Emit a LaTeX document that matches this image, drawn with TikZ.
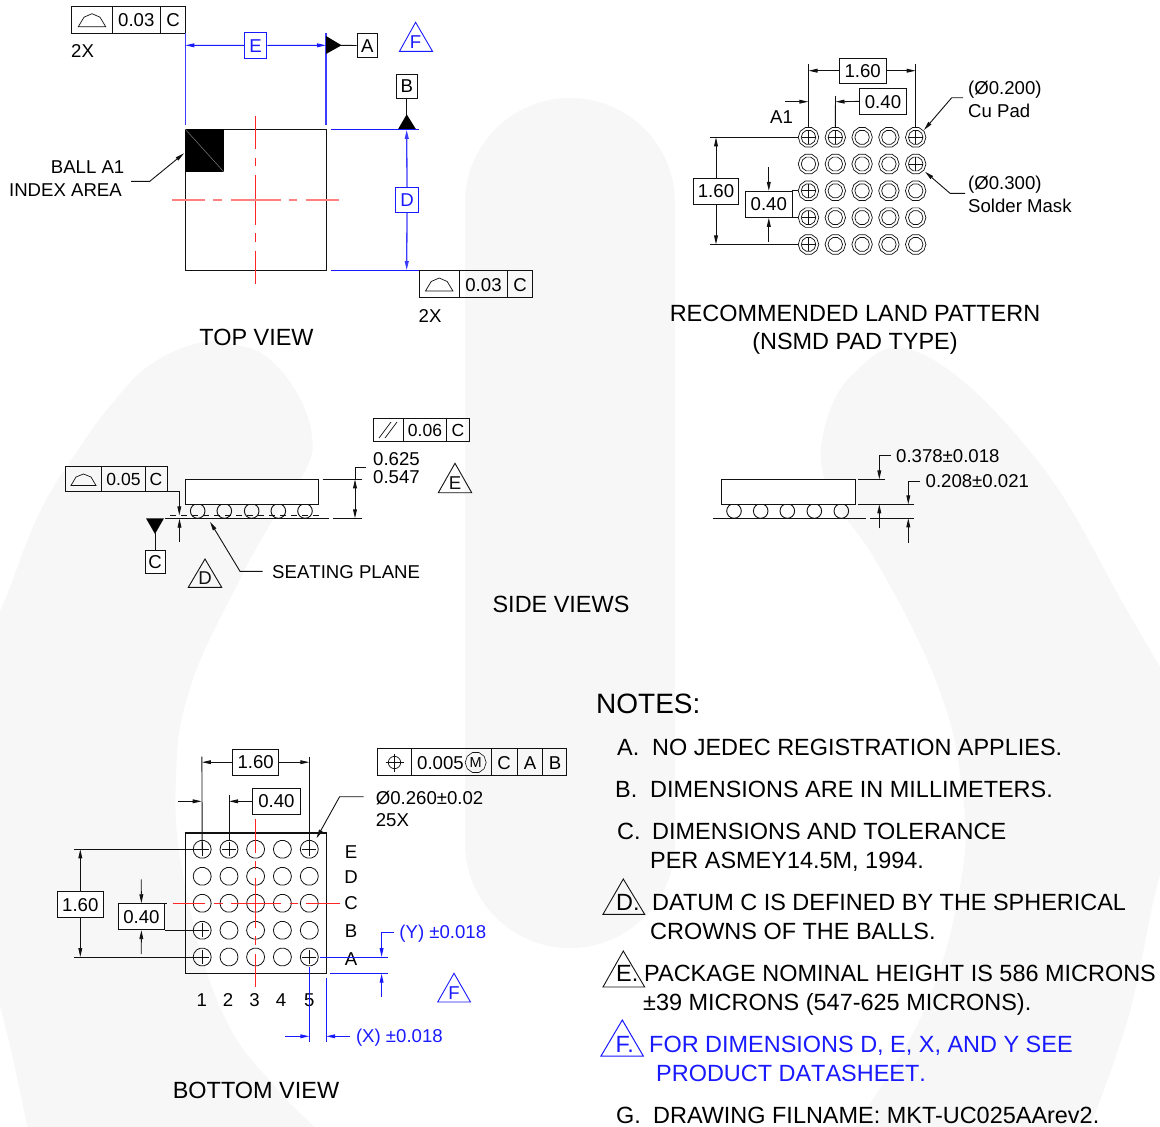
\documentclass[tikz,border=0pt]{standalone}
\usepackage{fontspec}
\setmainfont{Liberation Sans}
\newfontfamily\nk[Kerning=Off]{Liberation Sans}
\usetikzlibrary{arrows.meta,shapes.geometric}
\definecolor{wm}{HTML}{F7F7F7}
\definecolor{bl}{HTML}{1A1AFF}
\definecolor{softblue}{HTML}{3C3CFF}
\definecolor{cl}{RGB}{255,0,0}
\definecolor{ink}{HTML}{111111}
\newcommand{\fs}[1]{\fontsize{#1}{#1}\selectfont}
\tikzset{
  ln/.style={draw=ink,line width=0.9pt},
  bln/.style={draw=bl,line width=1pt},
  bext/.style={draw=softblue,line width=1.4pt},
  arr/.style={ln,-{Triangle[length=9pt,width=3.8pt]}},
  barr/.style={bln,-{Triangle[length=9pt,width=3.8pt]}},
  txt/.style={inner sep=0pt,text height=13.3pt,text depth=0pt,font=\fs{18.6},text=black},
  small/.style={txt,font=\fs{17.5},text height=12.6pt},
  big/.style={inner sep=0pt,text height=16.8pt,text depth=0pt,font=\fs{23.45},text=black},
  btxt/.style={txt,text=bl},
  bbig/.style={big,text=bl},
  dimbox/.style={draw=ink,line width=0.9pt,fill=white,inner sep=0pt,font=\fs{18.6},text=black,text height=13.3pt,text depth=0pt},
  bdimbox/.style={draw=bl,line width=1pt,fill=white,inner sep=0pt,font=\fs{18.6},text=bl,text height=13.3pt,text depth=0pt},
  pad/.style={regular polygon,regular polygon sides=10,draw=ink,line width=0.7pt,inner sep=0pt,minimum size=#1},
  ballp/.style={regular polygon,regular polygon sides=14,draw=ink,line width=0.8pt,inner sep=0pt,minimum size=18pt},
  redline/.style={draw=cl!85,line width=1.4pt},
  redsoft/.style={draw=cl!50,line width=1.4pt},
}
\newcommand{\dome}[2]{\draw[ln,line width=0.7pt] (#1-13.7,#2) -- (#1-8,#2-9.5) -- (#1,#2-13) -- (#1+8,#2-9.5) -- (#1+13.7,#2) -- cycle;}
\newcommand{\dtri}[8]{\draw[draw=#2,line width=0.9pt,line join=miter] (#3,#4) -- (#5,#7) -- (#6,#7) -- cycle;
  \node[txt,text=#2] (#1) at (#3,#7-9.5) {#8};}
\begin{document}
\begin{tikzpicture}[x=1pt,y=-1pt]
\useasboundingbox (0,0) rectangle (1160,1127);
\fill[white] (0,0) rectangle (1160,1127);
% ---- watermark
\begin{scope}
\clip (0,0) rectangle (1160,1127);
\fill[wm] (465,203) arc[start angle=180,end angle=360,radius=105] -- (675,843) arc[start angle=0,end angle=180,radius=105] -- cycle;
\fill[wm] plot[smooth,tension=0.7] coordinates {(-30,660) (0,611) (38,516) (76,453) (115,400) (153,363) (203,342) (237,345) (268,358) (298,395) (312,437) (306,469) (275,516) (237,585) (191,685) (176,775) (184,880) (222,1012) (279,1091) (330,1140)} -- (30,1140) -- plot[smooth,tension=0.6] coordinates {(30,1140) (0,1007) (-30,950)} -- cycle;
\fill[wm] plot[smooth,tension=0.7] coordinates {(835,507) (821,447) (853,374) (922,354) (1037,460) (1129,614) (1190,720)} -- (1190,1000) -- plot[smooth,tension=0.6] coordinates {(1190,820) (1160,875) (1129,1015) (1085,1140)} -- (845,1140) -- plot[smooth,tension=0.7] coordinates {(845,1140) (922,1015) (961,881) (961,781) (936,681) (876,561) (835,507)} -- cycle;
\end{scope}

% ================= TOP VIEW
\draw[ln] (185.3,129.3) rectangle (326,270.7);
\fill[black] (185.3,129.3) rectangle (223.7,171.7);
\draw[gray,line width=0.5pt] (185.3,129.3) -- (223.7,171.7);
\foreach \pa/\pb in {-84/-50.7,-42/-34,-25/25,33/42,50.7/84}
  \draw[redline] (255.3,200+\pa) -- (255.3,200+\pb);
\foreach \pa/\pb in {172.3/205,213.3/222.3,230.7/280.7,289.3/297.3,305.7/339.3}
  \draw[redsoft] (\pa,200) -- (\pb,200);
% fcf top-left
\draw[ln] (71.3,6.5) rectangle (185.3,33);
\draw[ln] (112,6.5) -- (112,33) (160.5,6.5) -- (160.5,33);
\dome{92}{26.7}
\node[txt] (fa1) at (136.3,20) {0.03};
\node[txt] (fa2) at (173,20) {C};
\node[txt,anchor=west] (fa3) at (71,51) {2X};
\coordinate (eL) at (185.3,45.3); \coordinate (eR) at (326,45.3);
\draw[bext] (185.5,33) -- (185.5,125);
\draw[bext] (326,33) -- (326,125);
\node[bdimbox,minimum width=22.5pt,minimum height=25.5pt] (boxE) at (255.7,45.5) {E};
\draw[barr] (boxE.west) -- (eL);
\draw[barr] (boxE.east) -- (eR);
\fill[black] (326,36) -- (341.6,45.3) -- (326,54) -- cycle;
\node[dimbox,minimum width=20.5pt,minimum height=23.5pt] (boxA) at (367.4,45.5) {A};
\draw[ln] (341,45.3) -- (boxA.west);
\dtri{triF}{bl}{415.6}{22.3}{399.5}{432.5}{51.3}{F}
\node[dimbox,minimum width=20.5pt,minimum height=24pt] (boxB) at (406.7,86.2) {B};
\coordinate (bT) at (406.7,115);
\draw[ln] (boxB.south) -- (bT);
\fill[black] (406.7,114.3) -- (416,129.3) -- (398,129.3) -- cycle;
\draw[bln] (330.6,129.3) -- (419.4,129.3);
\draw[bln] (330.6,270.7) -- (419.4,270.7);
\node[bdimbox,minimum width=23pt,minimum height=25pt] (boxD) at (407,200.2) {D};
\coordinate (dT) at (406.7,129.8); \coordinate (dB) at (406.7,270.2);
\draw[barr,draw=softblue,line width=1.3pt] (boxD.north) -- (dT);
\draw[barr,draw=softblue,line width=1.3pt] (boxD.south) -- (dB);
% fcf lower
\draw[ln] (419,270.7) rectangle (532.7,297.7);
\draw[ln] (459.4,270.7) -- (459.4,297.7) (507.6,270.7) -- (507.6,297.7);
\dome{439.2}{291}
\node[txt] (fb1) at (483.5,284.5) {0.03};
\node[txt] (fb2) at (520,284.5) {C};
\node[txt,anchor=west] (fb3) at (418.5,315.5) {2X};
\node[txt,anchor=east] (ba1) at (124.5,167) {BALL A1};
\node[txt,anchor=east] (ba2) at (122,189.5) {INDEX AREA};
\coordinate (bl1) at (131,181.3); \coordinate (bl2) at (149.8,181.3); \coordinate (bl3) at (184,153.3);
\draw[arr] (bl1) -- (bl2) -- (bl3);
\node[big] (tv) at (256.5,337) {TOP VIEW};

% ================= LAND PATTERN
\foreach \i/\x in {1/808.5,2/835.3,3/862.1,4/888.9,5/915.7}
 \foreach \j/\y in {1/137.3,2/164,3/190.8,4/217.6,5/244.4}{
  \node[pad=20.5pt] (lo\i\j) at (\x,\y) {};
  \node[pad=14.5pt] (li\i\j) at (\x,\y) {};
 }
\foreach \x/\y in {808.5/137.3,835.3/137.3,915.7/137.3,915.7/164,808.5/190.8,808.5/217.6,808.5/244.4}
  \draw[ln,line width=0.7pt] (\x-7,\y) -- (\x+7,\y) (\x,\y-7) -- (\x,\y+7);
\node[dimbox,minimum width=46.6pt,minimum height=25.3pt] (l160) at (862.7,70.7) {1.60};
\coordinate (lx1) at (808.5,70.7); \coordinate (lx5) at (915.7,70.7);
\draw[ln] (808.5,64) -- (lo11.north);
\draw[ln] (915.7,64) -- (lo51.north);
\draw[arr] (l160.west) -- (lx1);
\draw[arr] (l160.east) -- (lx5);
\node[dimbox,minimum width=47.4pt,minimum height=26pt] (l040) at (883,101.4) {0.40};
\coordinate (lx2) at (835.5,101.7);
\draw[ln] (835.5,96) -- (lo21.north);
\draw[arr] (l040.west) -- (lx2);
\coordinate (a1s) at (785,101.7); \coordinate (a1e) at (808.3,101.7);
\draw[arr] (a1s) -- (a1e);
\node[txt] (a1t) at (781.5,117) {A1};
\coordinate (ly1) at (710,137.3); \coordinate (ly5) at (710,244.4);
\draw[ln] (ly1) -- (lo11.west);
\draw[ln] (ly5) -- (lo15.west);
\node[dimbox,minimum width=45.4pt,minimum height=26pt] (lv160) at (716,191.3) {1.60};
\coordinate (lvT) at (716,137.3); \coordinate (lvB) at (716,244.4);
\draw[arr] (lv160.north) -- (lvT);
\draw[arr] (lv160.south) -- (lvB);
\node[dimbox,minimum width=47pt,minimum height=26pt] (lv040) at (768.8,204.3) {0.40};
\coordinate (s1) at (768.8,167.3); \coordinate (s2) at (768.8,242);
\draw[arr] (s1) -- (lv040.north);
\draw[arr] (s2) -- (lv040.south);
\draw[ln] (792.3,190.8) -- (lo13.west);
\draw[ln] (792.3,217.6) -- (lo14.west);
\coordinate (c1) at (963,97.7); \coordinate (c2) at (951.7,97.7); \coordinate (c3) at (924,130);
\draw[arr] (c1) -- (c2) -- (c3);
\coordinate (m1) at (965,193.3); \coordinate (m2) at (950,193.3); \coordinate (m3) at (925,171.7);
\draw[arr] (m1) -- (m2) -- (m3);
\node[txt,anchor=west] (t1) at (968,88) {(Ø0.200)};
\node[txt,anchor=west] (t2) at (968,111) {Cu Pad};
\node[txt,anchor=west] (t3) at (968,183) {(Ø0.300)};
\node[txt,anchor=west] (t4) at (968,205.5) {Solder Mask};
\node[big] (t5) at (855,313) {RECOMMENDED LAND PATTERN};
\node[big] (t6) at (855,341.5) {(NSMD PAD TYPE)};

% ================= SIDE VIEW LEFT
\draw[ln] (373.3,418.3) rectangle (469.3,441.7);
\draw[ln] (403.3,418.3) -- (403.3,441.7) (446.7,418.3) -- (446.7,441.7);
\draw[ln,line width=0.7pt] (379,438) -- (391,422) (385,438) -- (397,422);
\node[small] (s1t) at (425,430.5) {0.06};
\node[small] (s2t) at (458,430.5) {C};
\node[txt,anchor=west] (s3t) at (373,459) {0.625};
\node[txt,anchor=west] (s4t) at (373,477) {0.547};
\dtri{triE}{ink}{455}{463.3}{438.3}{471.7}{492.7}{E}
\draw[ln] (65.3,466.7) rectangle (167.3,491);
\draw[ln] (101.7,466.7) -- (101.7,491) (145,466.7) -- (145,491);
\draw[ln,line width=0.7pt] (71,485.5) -- (76,477) -- (83.5,474) -- (91,477) -- (96,485.5) -- cycle;
\node[small] (s5t) at (123.5,479.5) {0.05};
\node[small] (s6t) at (156,479.5) {C};
\foreach \x in {197.7,224.3,251.7,278.3,305}
  \draw[ln] (\x,511) circle[radius=7.3];
\draw[ln,fill=white] (185,479.3) rectangle (318.7,504.7);
\draw[ln,line width=0.7pt,dash pattern=on 6pt off 5pt] (170,515.3) -- (321.7,515.3);
\draw[ln] (165,518.3) -- (329,518.3);
\draw[ln] (333,518.3) -- (361.7,518.3);
\draw[ln] (322.7,479.3) -- (361.7,479.3);
\coordinate (fl0) at (167.3,491); \coordinate (fl1) at (179.3,491); \coordinate (fl2) at (179.3,515.3);
\draw[arr] (fl0) -- (fl1) -- (fl2);
\coordinate (fu0) at (179.5,542.3); \coordinate (fu1) at (179.5,518.7);
\draw[arr] (fu0) -- (fu1);
\coordinate (hT) at (355,467.3); \coordinate (hR) at (366,467.3); \coordinate (hC) at (355,479.3); \coordinate (hB) at (355,518.3);
\draw[ln] (hR) -- (hT) -- (hC);
\draw[ln,{Triangle[length=9pt,width=3.8pt]}-{Triangle[length=9pt,width=3.8pt]}] (hC) -- (hB);
\fill[black] (146,518.3) -- (164,518.3) -- (155,534) -- cycle;
\node[dimbox,minimum width=20pt,minimum height=23.3pt] (boxC) at (155,561.7) {C};
\coordinate (cT) at (155,533);
\draw[ln] (cT) -- (boxC.north);
\dtri{triD}{ink}{205}{559}{188.3}{221.7}{587.3}{D}
\coordinate (sp1) at (262.7,571.3); \coordinate (sp2) at (240,571.3); \coordinate (sp3) at (210,521.7);
\draw[arr] (sp1) -- (sp2) -- (sp3);
\node[txt,anchor=west] (sp) at (272,572) {\nk SEATING PLANE};

% ================= SIDE VIEW RIGHT
\foreach \x in {734,760.7,787.3,814.3,841.3}
  \draw[ln] (\x,511) circle[radius=7.3];
\draw[ln,fill=white] (721.7,479.3) rectangle (855,504.3);
\draw[ln] (712.7,518.3) -- (865.7,518.3);
\draw[ln] (858.3,479.3) -- (885,479.3);
\draw[ln] (858.3,504.3) -- (914.3,504.3);
\draw[ln] (870,518.3) -- (914.3,518.3);
\coordinate (r1) at (890.7,455); \coordinate (r2) at (879.3,455); \coordinate (r3) at (879.3,479.3);
\draw[arr] (r1) -- (r2) -- (r3);
\coordinate (r4) at (879.3,528.3); \coordinate (r5) at (879.3,504.3);
\draw[arr] (r4) -- (r5);
\coordinate (r6) at (920,481); \coordinate (r7) at (908.3,481); \coordinate (r8) at (908.3,504.3);
\draw[arr] (r6) -- (r7) -- (r8);
\coordinate (r9) at (908.3,542.7); \coordinate (r10) at (908.3,518.3);
\draw[arr] (r9) -- (r10);
\node[txt,anchor=west] (rt1) at (896,456) {0.378±0.018};
\node[txt,anchor=west] (rt2) at (925.5,481) {0.208±0.021};
\node[big] (sv) at (561,604) {SIDE VIEWS};

% ================= BOTTOM VIEW
\draw[ln,line width=1.1pt] (185.3,833) rectangle (326.2,973.7);
\foreach \i/\x in {1/202.2,2/229,3/255.6,4/282.4,5/309.3}
 \foreach \j/\y in {1/849.3,2/876.3,3/903.3,4/930.3,5/957}
  \node[ballp] (b\i\j) at (\x,\y) {};
\foreach \x/\y in {202.2/849.3,229/849.3,309.3/849.3,202.2/930.3,202.2/957,309.3/957}
  \draw[ln,line width=0.8pt] (\x-7,\y) -- (\x+7,\y) (\x,\y-7) -- (\x,\y+7);
\foreach \pa/\pb in {-84/-50.7,-42/-34,-25/25,33/42,50.7/84}
  \draw[redline] (255.6,903.3+\pa) -- (255.6,903.3+\pb);
\foreach \pa/\pb in {172.6/205.3,213.9/222.5,231/281,289.7/297.6,305.8/339.6}
  \draw[redline] (\pa,903.3) -- (\pb,903.3);
% fcf
\draw[ln] (377.5,748.7) rectangle (566.9,775.7);
\draw[ln] (411.2,748.7) -- (411.2,775.7) (491,748.7) -- (491,775.7) (517,748.7) -- (517,775.7) (542.7,748.7) -- (542.7,775.7);
\draw[ln,line width=0.7pt] (394.5,762.5) circle[radius=6.2];
\draw[ln,line width=0.7pt] (385.5,762.5) -- (403.5,762.5) (394.5,753.5) -- (394.5,771.5);
\node[txt,anchor=west] (bf1) at (417,762.5) {0.005};
\node[regular polygon,regular polygon sides=10,draw=ink,line width=0.6pt,minimum size=21pt,inner sep=0pt,font=\fs{14.5},text height=10.4pt,text depth=0pt] (bfm) at (475.7,762.5) {M};
\node[txt] (bf2) at (504,762.5) {C};
\node[txt] (bf3) at (530,762.5) {A};
\node[txt] (bf4) at (555,762.5) {B};
\node[dimbox,minimum width=45.8pt,minimum height=25.7pt] (b160) at (255.7,762.2) {1.60};
\coordinate (bx1) at (201.9,762.2); \coordinate (bx5) at (309.3,762.2);
\draw[ln] (201.9,756.7) -- (b11.center);
\draw[ln] (309.3,756.7) -- (b51.center);
\draw[arr] (b160.west) -- (bx1);
\draw[arr] (b160.east) -- (bx5);
\node[dimbox,minimum width=47.2pt,minimum height=26pt] (b040) at (276.4,801.3) {0.40};
\coordinate (bx2) at (229,801.3);
\draw[ln] (229,795) -- (b21.north);
\draw[arr] (b040.west) -- (bx2);
\coordinate (ba1s) at (178.4,801.3); \coordinate (ba1e) at (201.7,801.3);
\draw[arr] (ba1s) -- (ba1e);
\coordinate (by1) at (74.4,849.3); \coordinate (by5) at (74.4,957);
\draw[ln] (by1) -- (b11.center);
\draw[ln] (by5) -- (b15.center);
\node[dimbox,minimum width=46.2pt,minimum height=25.6pt] (bv160) at (80.3,904.5) {1.60};
\coordinate (bvT) at (80.3,849.3); \coordinate (bvB) at (80.3,957);
\draw[arr] (bv160.north) -- (bvT);
\draw[arr] (bv160.south) -- (bvB);
\node[dimbox,minimum width=46.5pt,minimum height=26pt] (bv040) at (141.4,916.7) {0.40};
\coordinate (bs1) at (141.2,879.3); \coordinate (bs2) at (141.2,954);
\draw[arr] (bs1) -- (bv040.north);
\draw[arr] (bs2) -- (bv040.south);
\draw[ln] (164.7,903.5) -- (167.4,903.5);
\draw[ln] (164.7,930.3) -- (b14.center);
\coordinate (dl1) at (363.7,796.7); \coordinate (dl2) at (339.6,796.7); \coordinate (dl3) at (316.5,838.3);
\draw[arr] (dl1) -- (dl2) -- (dl3);
\node[txt,anchor=west] (bd1) at (375.7,798) {Ø0.260±0.02};
\node[txt,anchor=west] (bd2) at (375.7,820) {25X};
\foreach \n/\t/\y in {E/E/852.3,D/D/877.3,C/C/903.3,B/B/930.7,A/A/959}
  \node[txt] (r\n) at (351,\y) {\t};
\foreach \n/\x in {1/201.8,2/228,3/254.5,4/281,5/309.3}
  \node[txt] (c\n) at (\x,1000) {\n};
% blue tolerances
\draw[bln] (319.6,957) -- (387.8,957);
\draw[bln] (330.3,973.7) -- (387.8,973.7);
\coordinate (y1) at (394,932.7); \coordinate (y2) at (381.6,932.7); \coordinate (y3) at (381.6,957);
\draw[barr] (y1) -- (y2) -- (y3);
\coordinate (y4) at (381.6,997.3); \coordinate (y5) at (381.6,973.7);
\draw[barr] (y4) -- (y5);
\node[btxt,anchor=west] (yt) at (399.2,932) {(Y) ±0.018};
\draw[bln] (309.3,967.3) -- (309.3,1042.3);
\draw[bln] (326.2,978.3) -- (326.2,1042.3);
\coordinate (x1) at (285.2,1036.3); \coordinate (x2) at (309.3,1036.3);
\draw[barr] (x1) -- (x2);
\coordinate (x3) at (350,1036.3); \coordinate (x4) at (326.2,1036.3);
\draw[barr] (x3) -- (x4);
\node[btxt,anchor=west] (xt) at (355.8,1036) {(X) ±0.018};
\dtri{triF2}{bl}{454}{973.3}{437.7}{470.5}{1002}{F}
\node[big] (bv) at (256,1090) {BOTTOM VIEW};

% ================= NOTES
\node[big,anchor=west,font=\fs{28},text height=20pt] (nn) at (596,703) {NOTES:};
\node[big,anchor=west] (na) at (617,747) {A.};
\node[big,anchor=west] (na2) at (652,747) {NO JEDEC REGISTRATION APPLIES.};
\node[big,anchor=west] (nb) at (615,789) {B.};
\node[big,anchor=west] (nb2) at (650,789) {DIMENSIONS ARE IN MILLIMETERS.};
\node[big,anchor=west] (nc) at (617,831) {C.};
\node[big,anchor=west] (nc2) at (652,831) {DIMENSIONS AND TOLERANCE};
\node[big,anchor=west] (nc3) at (650,860) {PER ASMEY14.5M, 1994.};
\draw[ln] (623.3,879) -- (603,914.3) -- (644.7,914.3) -- cycle;
\node[big,anchor=west] (nd) at (616,902) {D.};
\node[big,anchor=west] (nd2) at (652,902) {DATUM C IS DEFINED BY THE SPHERICAL};
\node[big,anchor=west] (nd3) at (650,931) {CROWNS OF THE BALLS.};
\draw[ln] (623.3,951) -- (603,987) -- (644.7,987) -- cycle;
\node[big,anchor=west] (ne) at (616,973) {E.};
\node[big,anchor=west] (ne2) at (644,973) {PACKAGE NOMINAL HEIGHT IS 586 MICRONS};
\node[big,anchor=west] (ne3) at (643,1002) {±39 MICRONS (547-625 MICRONS).};
\draw[bln] (622.3,1020) -- (601,1056) -- (643.3,1056) -- cycle;
\node[bbig,anchor=west] (nf) at (615.5,1044) {F.};
\node[bbig,anchor=west] (nf2) at (649,1044) {FOR DIMENSIONS D, E, X, AND Y SEE};
\node[bbig,anchor=west] (nf3) at (656,1073) {\nk PRODUCT DATASHEET.};
\node[big,anchor=west] (ng) at (616,1115) {G.};
\node[big,anchor=west] (ng2) at (653,1115) {DRAWING FILNAME: MKT-UC025AArev2.};
\end{tikzpicture}
\end{document}
